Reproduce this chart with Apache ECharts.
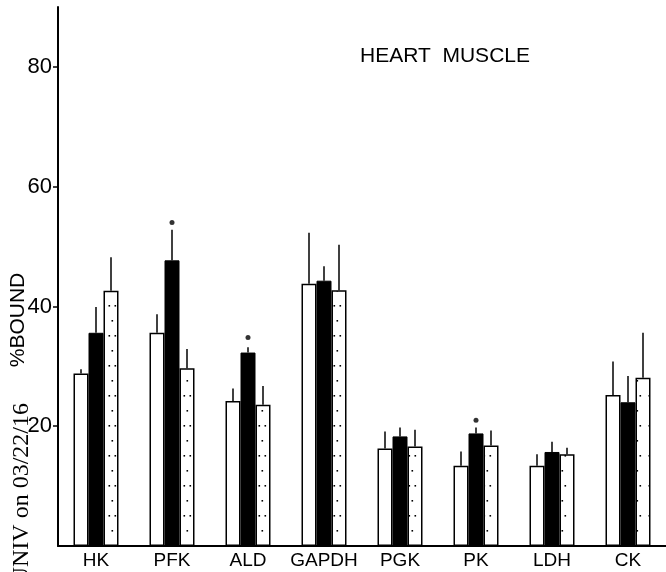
<!DOCTYPE html>
<html>
<head>
<meta charset="utf-8">
<script src="https://cdn.jsdelivr.net/npm/echarts@6/dist/echarts.min.js"></script>
<style>
  html, body { margin: 0; padding: 0; background: #fff; }
  #main { width: 666px; height: 572px; }
</style>
</head>
<body>
<div id="main"></div>
<script>
// enzymes along the x axis
var enzymes = ['HK', 'PFK', 'ALD', 'GAPDH', 'PGK', 'PK', 'LDH', 'CK'];
// % bound, three conditions (open / solid / dotted bars)
var openBars   = [28.8, 35.6, 24.2, 43.8, 16.3, 13.4, 13.4, 25.2];
var openErr    = [0.7, 3.1, 2.1, 8.5, 2.8, 2.4, 1.9, 5.6];
var solidBars  = [35.6, 47.7, 32.3, 44.3, 18.3, 18.8, 15.7, 24.0];
var solidErr   = [4.3, 5.1, 0.9, 2.4, 1.5, 1.0, 1.7, 4.4];
var dotBars    = [42.6, 29.7, 23.6, 42.7, 16.6, 16.8, 15.3, 28.1];
var dotErr     = [5.6, 3.2, 3.1, 7.6, 2.8, 2.5, 1.1, 7.5];
// significance dots above the solid bars
var sigMarks   = [null, 54, 34.8, null, null, 21, null, null];
var yTicks     = [20, 40, 60, 80];

var barW = 15;

// dotted fill
var pat = document.createElement('canvas');
pat.width = 15; pat.height = 30;
var ctx = pat.getContext('2d');
ctx.fillStyle = '#fff';
ctx.fillRect(0, 0, 15, 30);
ctx.fillStyle = '#000';
[[3.5, 5], [9.5, 5], [6.5, 20]].forEach(function (p) {
  ctx.fillRect(p[0], p[1], 1.6, 1.6);
});

// error bar data: [category, value, err, slot]
var errData = [];
[[openBars, openErr, -1], [solidBars, solidErr, 0], [dotBars, dotErr, 1]].forEach(function (s) {
  s[0].forEach(function (v, i) {
    errData.push([i, v, s[1][i], s[2]]);
  });
});

var myChart = echarts.init(document.getElementById('main'));

var font = 'Liberation Sans, Arial, sans-serif';

option = {
  animation: false,
  backgroundColor: '#fff',
  grid: { left: 58, right: 0, top: 7, bottom: 26 },
  xAxis: {
    type: 'category',
    data: enzymes,
    axisLine: { lineStyle: { color: '#000', width: 2 } },
    axisTick: { show: false },
    axisLabel: { color: '#000', fontSize: 19, fontFamily: font, margin: 5, interval: 0 }
  },
  yAxis: {
    type: 'value',
    min: 0,
    max: 90,
    splitLine: { show: false },
    axisLine: { show: true, lineStyle: { color: '#000', width: 2 } },
    axisTick: { show: true, length: 5, customValues: yTicks, lineStyle: { color: '#000', width: 1.5 } },
    axisLabel: { color: '#000', fontSize: 22, fontFamily: font, margin: 6, customValues: yTicks }
  },
  series: [
    {
      name: 'open',
      type: 'bar',
      barWidth: barW,
      barGap: '0%',
      data: openBars,
      itemStyle: { color: '#fff', borderColor: '#000', borderWidth: 1.5 }
    },
    {
      name: 'solid',
      type: 'bar',
      barWidth: barW,
      barGap: '0%',
      data: solidBars,
      itemStyle: { color: '#000', borderColor: '#000', borderWidth: 1 }
    },
    {
      name: 'dotted',
      type: 'bar',
      barWidth: barW,
      barGap: '0%',
      data: dotBars,
      itemStyle: { color: { image: pat, repeat: 'repeat' }, borderColor: '#000', borderWidth: 1.5 }
    },
    {
      name: 'err',
      type: 'custom',
      z: 5,
      data: errData,
      renderItem: function (params, api) {
        var base = api.coord([api.value(0), api.value(1)]);
        var top = api.coord([api.value(0), api.value(1) + api.value(2)]);
        var x = base[0] + api.value(3) * barW;
        return {
          type: 'line',
          shape: { x1: x, y1: base[1], x2: x, y2: top[1] },
          style: { stroke: '#000', lineWidth: 1.5 }
        };
      }
    },
    {
      name: 'sig',
      type: 'scatter',
      data: sigMarks,
      symbol: 'circle',
      symbolSize: 5,
      itemStyle: { color: '#000' },
      z: 6
    }
  ],
  graphic: [
    {
      type: 'text',
      left: 360,
      top: 46,
      style: { text: 'HEART  MUSCLE', fill: '#000', font: '21px ' + font }
    },
    {
      type: 'text',
      x: 18,
      y: 320,
      rotation: Math.PI / 2,
      style: { text: '%BOUND', fill: '#000', font: '21px ' + font, align: 'center', verticalAlign: 'middle' }
    },
    {
      type: 'text',
      x: 22,
      y: 403,
      rotation: Math.PI / 2,
      style: { text: 'UNIV on 03/22/16', fill: '#000', font: '24px Liberation Serif, serif', align: 'right', verticalAlign: 'middle' }
    }
  ]
};

myChart.setOption(option);
</script>
</body>
</html>
